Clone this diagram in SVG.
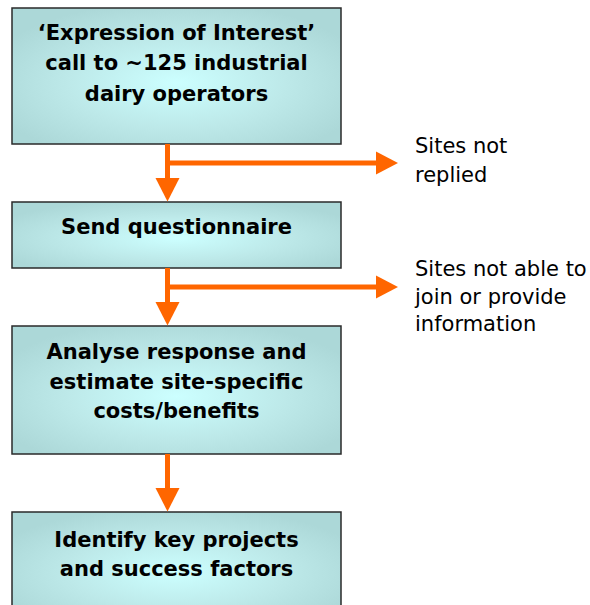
<svg xmlns="http://www.w3.org/2000/svg" width="590" height="605" viewBox="0 0 590 605">
  <defs>
    <radialGradient id="boxFill" cx="0.5" cy="0.55" r="0.6">
      <stop offset="0" stop-color="#ccffff"/>
      <stop offset="0.55" stop-color="#bde9e9"/>
      <stop offset="1" stop-color="#acd8d8"/>
    </radialGradient>
    <style>
      .box { fill: url(#boxFill); stroke: #2a2a2a; stroke-width: 1.5; }
      .step { font-family: "DejaVu Sans", "Liberation Sans", sans-serif; font-weight: bold; font-size: 21px; fill: #000; text-anchor: middle; }
      .note { font-family: "DejaVu Sans", "Liberation Sans", sans-serif; font-size: 21px; fill: #000; }
      .flow { stroke: #ff6600; stroke-width: 5; fill: none; }
      .head { fill: #ff6600; }
    </style>
  </defs>

  <!-- process steps -->
  <g id="step-expression">
    <rect class="box" x="12" y="8" width="329" height="136"/>
    <text class="step" x="176.5" y="39.5">‘Expression of Interest’</text>
    <text class="step" x="176.5" y="70">call to ~125 industrial</text>
    <text class="step" x="176.5" y="100.5">dairy operators</text>
  </g>

  <g id="step-questionnaire">
    <rect class="box" x="12" y="202" width="329" height="66"/>
    <text class="step" x="176.5" y="234">Send questionnaire</text>
  </g>

  <g id="step-analyse">
    <rect class="box" x="12" y="326" width="329" height="128"/>
    <text class="step" x="176.5" y="359">Analyse response and</text>
    <text class="step" x="176.5" y="388.5">estimate site-specific</text>
    <text class="step" x="176.5" y="418">costs/benefits</text>
  </g>

  <g id="step-identify">
    <rect class="box" x="12" y="512" width="329" height="110"/>
    <text class="step" x="176.5" y="547">Identify key projects</text>
    <text class="step" x="176.5" y="575.5">and success factors</text>
  </g>

  <!-- drop-out notes -->
  <g id="note-not-replied">
    <text class="note" x="415" y="153">Sites not</text>
    <text class="note" x="415" y="181.5">replied</text>
  </g>

  <g id="note-not-able">
    <text class="note" x="415" y="276">Sites not able to</text>
    <text class="note" x="415" y="303.5">join or provide</text>
    <text class="note" x="415" y="331">information</text>
  </g>

  <!-- connectors -->
  <g id="connectors">
    <!-- step 1 to step 2, with branch to the right -->
    <line class="flow" x1="167.5" y1="144" x2="167.5" y2="180"/>
    <polygon class="head" points="155.5,178 179.5,178 167.5,201.5"/>
    <line class="flow" x1="167.5" y1="163" x2="378" y2="163"/>
    <polygon class="head" points="376,151.5 376,174.5 398,163"/>

    <!-- step 2 to step 3, with branch to the right -->
    <line class="flow" x1="167.5" y1="268" x2="167.5" y2="304"/>
    <polygon class="head" points="155.5,302 179.5,302 167.5,325.5"/>
    <line class="flow" x1="167.5" y1="287" x2="378" y2="287"/>
    <polygon class="head" points="376,275.5 376,298.5 398,287"/>

    <!-- step 3 to step 4 -->
    <line class="flow" x1="167.5" y1="454" x2="167.5" y2="490"/>
    <polygon class="head" points="155.5,488 179.5,488 167.5,511.5"/>
  </g>
</svg>
